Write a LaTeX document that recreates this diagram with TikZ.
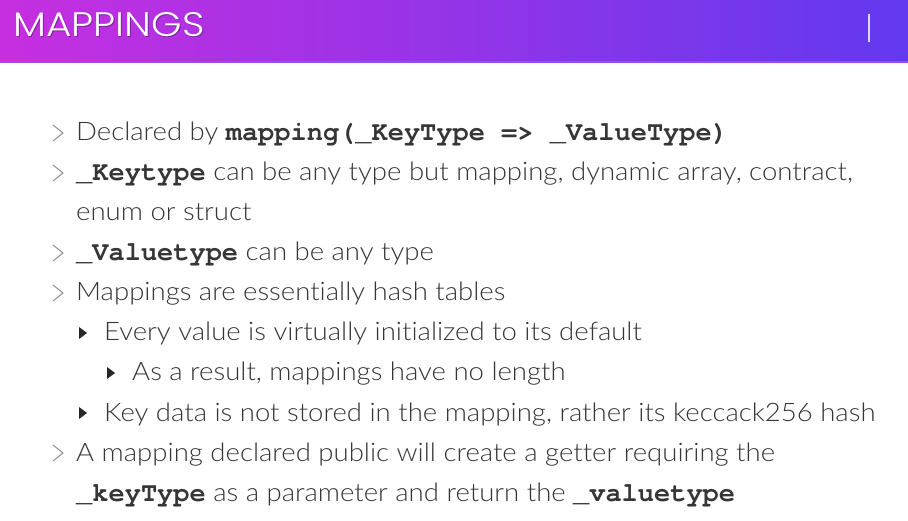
\documentclass[tikz,border=0pt]{standalone}
\usepackage{fontspec}
\setmainfont{Lato Light}[FakeStretch=1.08, Ligatures=NoCommon]
\newfontfamily\titlefont{Poppins Light}[FakeStretch=1.15]
\newfontfamily\codefont{texgyrecursor-bold.otf}
\usetikzlibrary{positioning}

\definecolor{hdrL}{HTML}{C62FE0}
\definecolor{hdrR}{HTML}{6239EF}
\definecolor{hdrLine}{HTML}{9B4FD6}
\definecolor{txtgray}{HTML}{363636}
\definecolor{chevgray}{HTML}{8A8A8A}

\newcommand{\cd}[1]{{\codefont\fontsize{27}{28}\selectfont #1}}

\tikzset{
  txt/.style={anchor=base west, inner sep=0pt, text=txtgray,
    font=\fontsize{25.5}{28}\selectfont},
  ttl/.style={anchor=base west, inner sep=0pt, text=white,
    font=\titlefont\fontsize{34}{36}\selectfont},
  chev/.style={chevgray, line width=1pt},
  tri/.style={fill=black!85, draw=none}
}

\begin{document}
\begin{tikzpicture}[x=1pt, y=-1pt]
  \useasboundingbox (0,0) rectangle (908,521);
  \fill[white] (0,0) rectangle (908,521);

  % --- Intestazione ---
  \shade[left color=hdrL, right color=hdrR] (0,0) rectangle (908,62);
  \draw[hdrLine, line width=1.5pt] (0,62) -- (908,62);
  \node[ttl, text=black, opacity=.3] (titleshadow) at (14,38) {MAPPINGS};
  \node[ttl] (title) at (13,37) {MAPPINGS};
  \draw[white!80!hdrR, line width=1.2pt] (869,14) -- (869,42);

  % --- Righe di testo ---
  \node[txt] (l1) at (76,141) {Declared by \cd{mapping(\_KeyType => \_ValueType)}};
  \node[txt] (l2) at (76,181) {\cd{\_Keytype} can be any type but mapping, dynamic array, contract,};
  \node[txt] (l3) at (76,221) {enum or struct};
  \node[txt] (l4) at (76,261) {\cd{\_Valuetype} can be any type};
  \node[txt] (l5) at (76,301) {Mappings are essentially hash tables};
  \node[txt] (l6) at (104,341) {Every value is virtually initialized to its default};
  \node[txt] (l7) at (132,381) {As a result, mappings have no length};
  \node[txt] (l8) at (104,421) {Key data is not stored in the mapping, rather its keccack256 hash};
  \node[txt] (l9) at (76,461) {A mapping declared public will create a getter requiring the};
  \node[txt] (l10) at (76,501) {\cd{\_keyType} as a parameter and return the \cd{\_valuetype}};

  % --- Punti elenco ---
  \foreach \y in {133,173,253,293,453}
    \draw[chev] (53,\y-8) -- (63,\y) -- (53,\y+8);
  \foreach \x/\y in {79/333,107/373,79/413}
    \fill[tri] (\x,\y-6) -- (\x+8,\y) -- (\x,\y+6) -- cycle;
\end{tikzpicture}
\end{document}
